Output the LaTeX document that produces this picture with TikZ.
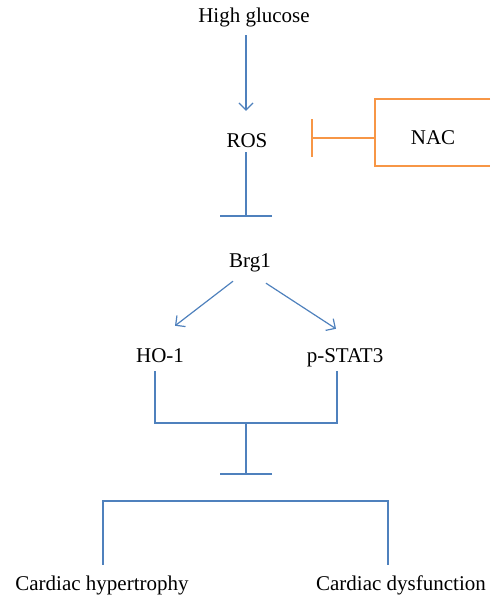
\documentclass[tikz,border=0pt]{standalone}
\usepackage{fontspec}
\setmainfont{Liberation Serif}
\usetikzlibrary{arrows.meta}
\definecolor{pathblue}{RGB}{79,129,189}
\definecolor{nacorange}{RGB}{247,150,70}

\begin{document}
\begin{tikzpicture}[x=1pt,y=-1pt,
    act/.style={draw=pathblue,line width=1.2pt,-{Straight Barb[length=7pt,width=14pt]}},
    inh/.style={draw=pathblue,line width=1.2pt,-{Bar[width=52pt,line width=1.5pt]}},
    link/.style={draw=pathblue,line width=1.2pt}]
      \useasboundingbox (0,0) rectangle (490,596);
      \begin{scope}[every node/.style={anchor=base,inner sep=0pt,text height=14pt,text depth=5pt,font=\fontsize{21}{25}\selectfont}]
        \node (hg) at (254,23) {High glucose};
        \node (ros) at (247,147) {ROS};
        \node (nac) at (433,145) {NAC};
        \node (brg) at (250,267) {Brg1};
        \node (ho1) at (160,362) {HO-1};
        \node (stat) at (345,362) {p-STAT3};
        \node (ch) at (102,590) {Cardiac hypertrophy};
        \node (cd) at (401,590) {Cardiac dysfunction};
      \end{scope}
      \coordinate (bar1) at (246,216.5);
      \coordinate (join) at (246,423);
      \coordinate (bar2) at (246,474.5);
      \coordinate (nacin) at (375,138);
      % activation and inhibition
      \draw[act,shorten <=7pt,shorten >=22pt] (hg.south -| bar1) -- (ros.north -| bar1);
      \draw[inh] (ros.south -| bar1) -- (bar1);
      \draw[act] ([xshift=-17pt,yshift=-9pt]brg.south) -- ([xshift=15pt,yshift=22pt]ho1.north);
      \draw[act] ([xshift=16pt,yshift=-11pt]brg.south) -- ([xshift=-9pt,yshift=19pt]stat.north);
      \draw[link] ([xshift=-5pt,yshift=-4pt]ho1.south) |- (join) -| ([xshift=-8pt,yshift=-4pt]stat.south);
      \draw[inh] (join) -- (bar2);
      \draw[link] ([xshift=1pt,yshift=11pt]ch.north) |- (246,501) -| ([xshift=-13pt,yshift=11pt]cd.north);
      % NAC box
      \draw[nacorange,line width=1.2pt] (490,99) -| (375,166) -- (490,166);
      \draw[nacorange,line width=1.2pt,-{Bar[width=38pt,line width=1.5pt]}] (nacin) -- (311,138);
\end{tikzpicture}
\end{document}
